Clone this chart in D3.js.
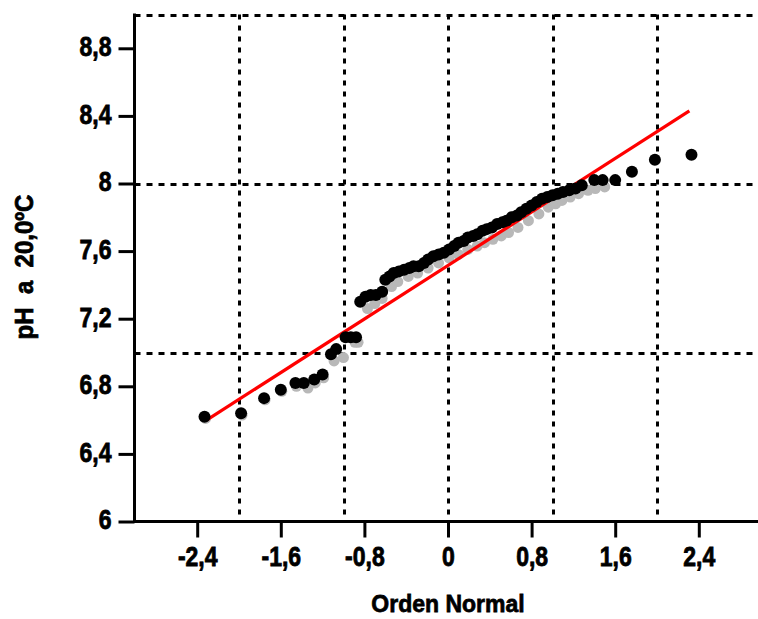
<!DOCTYPE html>
<html>
<head>
<meta charset="utf-8">
<script src="https://cdn.jsdelivr.net/npm/d3@7"></script>
<style>
  body { margin: 0; background: #fff; }
  svg text { font-family: "Liberation Sans", Arial, sans-serif; font-weight: bold; fill: #000; stroke: #000; stroke-width: 0.7px; }
</style>
</head>
<body>
<div id="chart"></div>
<script>
// normal score (z) and pH values
var blackZ = [-2.33, -1.98, -1.76, -1.60, -1.46, -1.38, -1.28, -1.20, -1.12, -1.07, -0.98, -0.93, -0.88,
  -0.84, -0.79, -0.74, -0.69, -0.63, -0.60, -0.56, -0.52, -0.47, -0.42, -0.37, -0.33, -0.28, -0.23,
  -0.19, -0.14, -0.09, -0.04, 0.01, 0.06, 0.10, 0.15, 0.19, 0.24, 0.28, 0.33, 0.37, 0.42, 0.47, 0.52,
  0.56, 0.61, 0.66, 0.70, 0.75, 0.80, 0.85, 0.90, 0.95, 1.00, 1.05, 1.10, 1.16, 1.22, 1.28, 1.40,
  1.48, 1.60, 1.76, 1.98, 2.33];
var blackPH = [6.62, 6.64, 6.73, 6.78, 6.82, 6.82, 6.84, 6.87, 6.99, 7.02, 7.09, 7.09, 7.09,
  7.30, 7.33, 7.34, 7.34, 7.36, 7.43, 7.45, 7.47, 7.48, 7.49, 7.50, 7.51, 7.51, 7.53,
  7.55, 7.57, 7.58, 7.59, 7.61, 7.63, 7.65, 7.66, 7.68, 7.69, 7.70, 7.72, 7.73, 7.74, 7.76, 7.77,
  7.78, 7.80, 7.81, 7.83, 7.85, 7.87, 7.89, 7.91, 7.92, 7.93, 7.94, 7.95, 7.96, 7.97, 7.99, 8.02,
  8.02, 8.02, 8.07, 8.14, 8.17];

var grayZ = [-2.33, -1.98, -1.76, -1.60, -1.46, -1.35, -1.28, -1.20, -1.10, -1.01, -0.90, -0.87,
  -0.78, -0.71, -0.64, -0.55, -0.49, -0.39, -0.30, -0.20, -0.10, 0.00, 0.09, 0.18, 0.27, 0.34,
  0.42, 0.50, 0.57, 0.66, 0.76, 0.86, 0.95, 1.02, 1.08, 1.16, 1.24, 1.33, 1.40, 1.49];
var grayPH = [6.61, 6.63, 6.72, 6.77, 6.80, 6.79, 6.82, 6.85, 6.95, 6.97, 7.06, 7.06,
  7.26, 7.29, 7.32, 7.39, 7.42, 7.45, 7.47, 7.50, 7.53, 7.56, 7.58, 7.61, 7.63, 7.65,
  7.67, 7.69, 7.71, 7.74, 7.78, 7.82, 7.86, 7.88, 7.90, 7.92, 7.94, 7.96, 7.97, 7.98];

// fitted normal line, end points
var lineZ = [-2.31, 2.31];
var linePH = [6.60, 8.43];

var xTicks = [-2.4, -1.6, -0.8, 0, 0.8, 1.6, 2.4];
var yTicks = [6, 6.4, 6.8, 7.2, 7.6, 8, 8.4, 8.8];
var xGrid = [-2, -1, 0, 1, 2];
var yGrid = [7, 8, 9];

var width = 758, height = 619;
var sy = 1.2; // text is drawn a little taller than wide

var x = d3.scaleLinear().domain([-3, 3]).range([134.5, 761.5]);
var y = d3.scaleLinear().domain([6, 9]).range([521.5, 14.5]);

var fmt = d3.formatLocale({decimal: ",", thousands: ".", grouping: [3], currency: ["", ""], minus: "-"}).format("~g");

var svg = d3.select("#chart").append("svg")
  .attr("width", width).attr("height", height);

// dotted reference lines
svg.append("g").selectAll("line").data(xGrid).enter().append("line")
  .attr("x1", d => Math.round(x(d)) + 0.5).attr("x2", d => Math.round(x(d)) + 0.5)
  .attr("y1", y(9)).attr("y2", y(6))
  .attr("stroke", "#000").attr("stroke-width", 3).attr("stroke-dasharray", "5,6");

svg.append("g").selectAll("line").data(yGrid).enter().append("line")
  .attr("x1", x(-3)).attr("x2", width)
  .attr("y1", d => Math.round(y(d)) + 0.5).attr("y2", d => Math.round(y(d)) + 0.5)
  .attr("stroke", "#000").attr("stroke-width", 3).attr("stroke-dasharray", "6,6");

// gray series
svg.append("g").selectAll("circle").data(grayZ).enter().append("circle")
  .attr("cx", d => x(d) + 1).attr("cy", (d, i) => y(grayPH[i]))
  .attr("r", 5.5).attr("fill", "#b8b8b8");

// red line
svg.append("line")
  .attr("x1", x(lineZ[0])).attr("y1", y(linePH[0]))
  .attr("x2", x(lineZ[1])).attr("y2", y(linePH[1]))
  .attr("stroke", "#ff0000").attr("stroke-width", 3.2);

// black series
svg.append("g").selectAll("circle").data(blackZ).enter().append("circle")
  .attr("cx", d => x(d)).attr("cy", (d, i) => y(blackPH[i]))
  .attr("r", 6).attr("fill", "#000");

// axes
var yAxis = svg.append("g")
  .attr("transform", "translate(" + x(-3) + ",0)")
  .call(d3.axisLeft(y).tickValues(yTicks).tickSize(16).tickPadding(7).tickFormat(fmt).tickSizeOuter(0));
var xAxis = svg.append("g")
  .attr("transform", "translate(0," + y(6) + ")")
  .call(d3.axisBottom(x).tickValues(xTicks).tickSize(16).tickPadding(9).tickFormat(fmt).tickSizeOuter(0));

[yAxis, xAxis].forEach(function(a) {
  a.select(".domain").attr("stroke-width", 3);
  a.selectAll(".tick line").attr("stroke-width", 3);
  a.selectAll("text").attr("font-size", 23).attr("font-family", null);
});
xAxis.select(".domain").attr("d", "M" + (x(-3) - 1.5) + ",0H" + width);
yAxis.select(".domain").attr("d", "M0," + (y(9) - 1) + "V" + (y(6) + 1.5));

// taller glyphs, keeping each label in place
yAxis.selectAll(".tick text")
  .attr("transform", "scale(1," + sy + ")")
  .attr("dy", (0.32 / sy) + "em");
xAxis.selectAll(".tick text")
  .attr("y", 25 / sy)
  .attr("transform", "scale(1," + sy + ")");

// titles
svg.append("text")
  .attr("transform", "translate(448,612) scale(1,1.08)")
  .attr("text-anchor", "middle").attr("font-size", 23)
  .text("Orden Normal");

svg.append("text")
  .attr("transform", "translate(33,267) rotate(-90) scale(1,1.1)")
  .attr("text-anchor", "middle").attr("font-size", 24)
  .attr("xml:space", "preserve")
  .text("pH  a  20,0ºC");
</script>
</body>
</html>
